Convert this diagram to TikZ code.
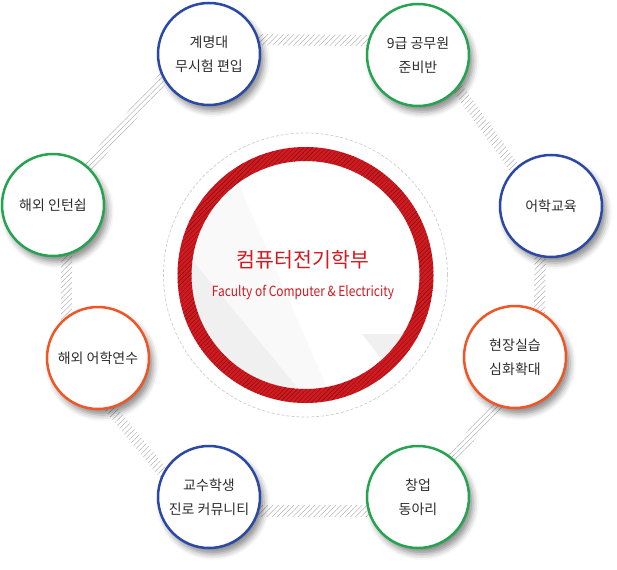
\documentclass[tikz,border=0pt]{standalone}
\usepackage{graphicx}
\usepackage{fontspec}
\setmainfont{Noto Sans CJK KR}
\usetikzlibrary{calc,shadows.blur,patterns.meta,backgrounds}
\definecolor{cblue}{HTML}{2B48A6}
\definecolor{cgreen}{HTML}{26A350}
\definecolor{corange}{HTML}{F05526}
\definecolor{cred}{HTML}{D01A20}
\definecolor{txt}{HTML}{2E2E2E}
\newcommand{\hband}[2]{%
  \coordinate (ba) at ($(#1)!-8pt!(#2)$);
  \coordinate (bb) at ($(#2)!-8pt!(#1)$);
  \fill[hatch] ($(ba)!5.5pt!90:(bb)$) -- ($(ba)!5.5pt!-90:(bb)$) -- ($(bb)!5.5pt!90:(ba)$) -- ($(bb)!5.5pt!-90:(ba)$) -- cycle;}
\begin{document}
\begin{tikzpicture}[x=1pt,y=-1pt,
  bub/.style={circle, draw=#1, line width=2.5pt, fill=white, minimum size=102pt, inner sep=0pt,
    align=center, text=txt, font=\fontsize{14}{24}\selectfont,
    blur shadow={shadow xshift=4pt, shadow yshift=-6pt, shadow blur radius=6pt, shadow opacity=45}},
  hatch/.style={pattern={Lines[angle=45,distance=3.7pt,line width=0.35pt]}, pattern color=gray!75}]
\useasboundingbox (0,0) rectangle (617,569);

% central graphic
\coordinate (O) at (305.5,275);
\draw[gray!40, line width=0.7pt, dash pattern=on 3pt off 2pt] (O) circle (142pt);
\begin{scope}
  \clip (O) circle (114pt);
  \fill[white] (O) circle (114pt);
  \fill[gray!5] (210,118) -- (380,510) -- (100,510) -- (100,150) -- cycle;
  \fill[gray!12] (150,209) -- (400,512) -- (150,512) -- cycle;
  \fill[gray!12] (362,334) -- (450,334) -- (450,430) -- (436,430) -- cycle;
\end{scope}
\fill[cred, even odd rule] (O) circle (128pt) (O) circle (114pt);
\fill[pattern={Lines[angle=45,distance=3.2pt,line width=0.25pt]}, pattern color=black!55!cred, even odd rule]
  (O) circle (128pt) (O) circle (114pt);
\node[text=cred, font=\fontsize{20.5}{24}\selectfont] (T1) at (303,260) {컴퓨터전기학부};
\node[text=cred, inner sep=0pt] (T2) at (303,292) {\resizebox{182pt}{\height}{\fontsize{14}{16}\selectfont Faculty of Computer \& Electricity}};

% satellite circles
\node[bub=cblue]   (K) at (209,54)  {계명대\\무시험 편입};
\node[bub=cgreen]  (G) at (418,55)  {9급 공무원\\준비반};
\node[bub=cblue]   (L) at (551,206) {어학교육};
\node[bub=corange] (H) at (515,357) {현장실습\\심화확대};
\node[bub=cgreen]  (C) at (418,497) {창업\\동아리};
\node[bub=cblue]   (P) at (209,497) {교수학생\\진로 커뮤니티};
\node[bub=corange] (Y) at (98,358)  {해외 어학연수};
\node[bub=cgreen]  (I) at (53,205)  {해외 인턴쉽};

% hatched connectors
\begin{pgfonlayer}{background}
  \hband{K.16}{G.164}
  \hband{G.-40}{L.134}
  \hband{L.-102}{H.62}
  \hband{H.-111}{C.49}
  \hband{C.196}{P.-16}
  \hband{P.152}{Y.-76}
  \hband{Y.127}{I.-75}
  \hband{I.47}{K.208}
\end{pgfonlayer}
\end{tikzpicture}
\end{document}
